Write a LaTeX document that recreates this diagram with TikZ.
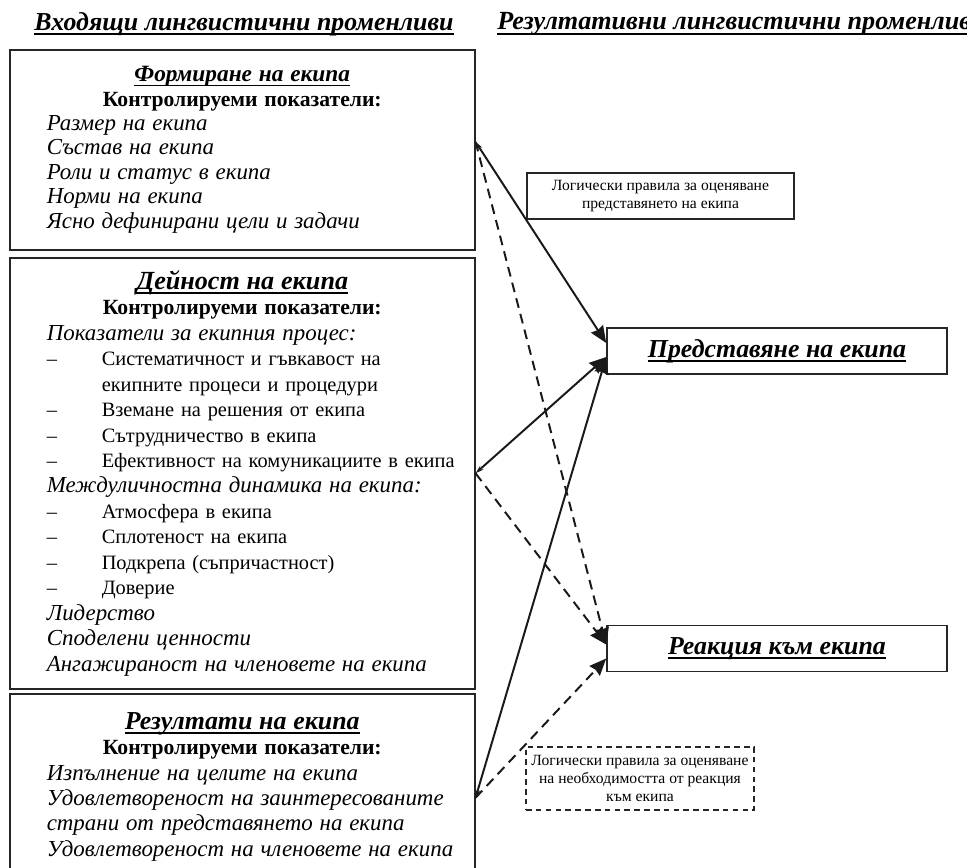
\documentclass[tikz,border=0pt]{standalone}
\usepackage{fontspec}
\setmainfont{Liberation Serif}
\usetikzlibrary{arrows.meta}

\newsavebox{\ulbox}
\newcommand{\ulhead}[1]{\sbox{\ulbox}{#1}\leavevmode\rlap{\rule[-3.4pt]{\wd\ulbox}{1.3pt}}\usebox{\ulbox}}
\newcommand{\hd}[1]{\textbf{\textit{\ulhead{#1}}}}
\newcommand{\dsh}{\makebox[1.375cm][l]{–}}
\newcommand{\itl}[1]{{\fontsize{16.3}{18.1}\selectfont\itshape #1}}

\begin{document}
\begin{tikzpicture}[>=Stealth, font=\fontsize{14.5}{17.4}\selectfont]

\tikzset{
  inbox/.style={draw=black!85, line width=1.1pt, anchor=north west, inner xsep=0.2cm, inner ysep=0pt, text width=11.225cm},
  outbox/.style={draw=black!85, line width=1.1pt, minimum width=8.5cm, minimum height=1.15cm, font=\fontsize{18.4}{21}\selectfont},
  rulebox/.style={draw=black!85, line width=1pt, align=center, font=\fontsize{11.1}{13}\selectfont},
  arr/.style={{Stealth[length=6pt,width=3.5pt]}-{Stealth[length=12pt,width=10pt,inset=1pt]}, line width=1.4pt, black!90},
  darr/.style={-{Stealth[length=12pt,width=10pt,inset=1pt]}, line width=1.4pt, black!90, dash pattern=on 7pt off 4.5pt}
}

\useasboundingbox (0,0) rectangle (24.175,-21.7);
\clip (0,0) rectangle (24.175,-21.7);

% --- Заглавия ---
\node[inner sep=0pt, font=\fontsize{18.4}{21}\selectfont] (tin) at (6.1,-0.6) {\hd{Входящи лингвистични променливи}};
\node[inner sep=0pt, anchor=west, font=\fontsize{18.6}{21}\selectfont] (tout) at (12.425,-0.6) {\hd{Резултативни лингвистични променливи}};

% --- Входящи променливи ---
\node[inbox, minimum height=5cm] (form) at (0.225,-1.225) {%
  {\centering\fontsize{16.6}{17.4}\selectfont\hd{Формиране на екипа}\\
   \fontsize{15.4}{17.4}\selectfont\textbf{Контролируеми показатели:}\par}
  \raggedright\leftskip=0.725cm\fontsize{16.3}{17.4}\selectfont\itshape
  Размер на екипа\\
  Състав на екипа\\
  Роли и статус в екипа\\
  Норми на екипа\\
  Ясно дефинирани цели и задачи\par};

\node[inbox, minimum height=10.775cm, font=\fontsize{14.5}{18.1}\selectfont] (act) at (0.225,-6.425) {%
  {\centering\fontsize{18.6}{20.5}\selectfont\hd{Дейност на екипа}\\
   \fontsize{15.4}{18.1}\selectfont\textbf{Контролируеми показатели:}\par}
  \raggedright\leftskip=0.725cm
  \itl{Показатели за екипния процес:}\\
  \dsh Систематичност и гъвкавост на\\
  \hspace*{1.375cm}екипните процеси и процедури\\
  \dsh Вземане на решения от екипа\\
  \dsh Сътрудничество в екипа\\
  \dsh Ефективност на комуникациите в екипа\\
  \itl{Междуличностна динамика на екипа:}\\
  \dsh Атмосфера в екипа\\
  \dsh Сплотеност на екипа\\
  \dsh Подкрепа (съпричастност)\\
  \dsh Доверие\\
  \itl{Лидерство}\\
  \itl{Споделени ценности}\\
  \itl{Ангажираност на членовете на екипа}\par};

\node[inbox, minimum height=4.65cm, font=\fontsize{14.5}{18.1}\selectfont] (res) at (0.225,-17.325) {%
  {\centering\fontsize{18.4}{18.1}\selectfont\hd{Резултати на екипа}\\
   \fontsize{15.4}{18.1}\selectfont\textbf{Контролируеми показатели:}\par}
  \raggedright\leftskip=0.725cm\fontsize{16.3}{18.1}\selectfont\itshape
  Изпълнение на целите на екипа\\
  Удовлетвореност на заинтересованите\\
  страни от представянето на екипа\\
  Удовлетвореност на членовете на екипа\par};

% --- Резултативни променливи ---
\node[outbox] (pred) at (19.425,-8.775) {\hd{Представяне на екипа}};
\node[outbox] (react) at (19.425,-16.2125) {\hd{Реакция към екипа}};

% --- Логически правила ---
\node[rulebox, minimum width=6.675cm, minimum height=1.15cm] (rul1) at (16.5125,-4.9)
  {Логически правила за оценяване\\представянето на екипа};
\node[rulebox, dash pattern=on 4pt off 3pt, minimum width=5.7cm, minimum height=1.575cm] (rul2) at (16.0,-19.4625)
  {Логически правила за оценяване\\на необходимостта от реакция\\към екипа};

% --- Стрелки ---
\draw[arr] ([yshift=0.2cm]form.east) -- ([yshift=0.2cm]pred.west);
\draw[darr] ([yshift=0.2cm]form.east) -- ([yshift=0.1cm]react.west);

\draw[arr] (act.east) -- ([yshift=-0.15cm]pred.west);
\draw[darr] (act.east) -- ([yshift=0.1cm]react.west);

\draw[arr] ([yshift=-0.275cm]res.east) -- ([yshift=-0.15cm]pred.west);
\draw[darr] ([yshift=-0.275cm]res.east) -- ([yshift=-0.25cm]react.west);

\end{tikzpicture}
\end{document}
